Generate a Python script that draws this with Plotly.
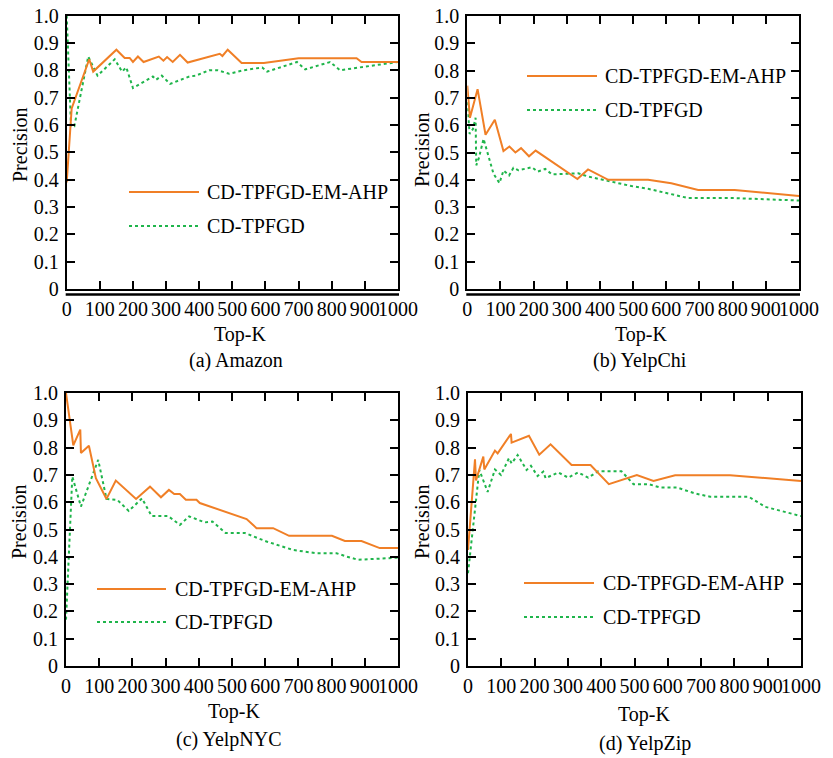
import plotly.graph_objects as go

W, H = 833, 758
FONT = "'Liberation Serif', 'Times New Roman', Times, 'DejaVu Serif', serif"
ORANGE = "#F07F26"
GREEN = "#1FB54B"

# ---------------- data ----------------
a_em_x = [0, 15, 68, 80, 150, 175, 190, 200, 215, 232, 278, 292, 303, 320, 342, 365, 462, 470, 486, 528, 595, 700, 875, 890, 1000]
a_em_y = [0.39, 0.66, 0.84, 0.795, 0.875, 0.845, 0.845, 0.83, 0.85, 0.83, 0.85, 0.835, 0.848, 0.83, 0.856, 0.828, 0.86, 0.852, 0.875, 0.826, 0.826, 0.844, 0.844, 0.83, 0.83]
a_cd_x = [0, 13, 23, 65, 93, 145, 167, 180, 200, 260, 270, 287, 312, 370, 390, 430, 455, 490, 535, 590, 605, 695, 720, 795, 825, 1000]
a_cd_y = [1.0, 0.595, 0.595, 0.85, 0.78, 0.84, 0.795, 0.81, 0.735, 0.777, 0.765, 0.78, 0.75, 0.777, 0.78, 0.80, 0.80, 0.787, 0.80, 0.81, 0.795, 0.83, 0.803, 0.83, 0.80, 0.83]

b_em_x = [0, 8, 31, 55, 83, 109, 127, 145, 162, 186, 206, 332, 364, 425, 545, 615, 696, 806, 1000]
b_em_y = [0.745, 0.627, 0.732, 0.565, 0.62, 0.505, 0.522, 0.50, 0.516, 0.486, 0.507, 0.403, 0.438, 0.40, 0.40, 0.387, 0.363, 0.363, 0.341]
b_cd_x = [0, 7, 17, 25, 27, 35, 49, 59, 79, 97, 109, 126, 139, 154, 195, 212, 235, 255, 334, 364, 425, 495, 545, 666, 806, 1000]
b_cd_y = [0.684, 0.568, 0.586, 0.627, 0.453, 0.48, 0.55, 0.507, 0.422, 0.388, 0.434, 0.416, 0.444, 0.435, 0.446, 0.43, 0.44, 0.42, 0.424, 0.412, 0.395, 0.377, 0.367, 0.333, 0.333, 0.324]

c_em_x = [0, 22, 43, 45, 69, 90, 122, 150, 211, 253, 286, 310, 326, 343, 361, 393, 403, 544, 574, 624, 672, 801, 840, 890, 945, 1000]
c_em_y = [1.0, 0.808, 0.866, 0.78, 0.807, 0.688, 0.612, 0.679, 0.612, 0.657, 0.618, 0.645, 0.63, 0.63, 0.609, 0.609, 0.597, 0.538, 0.505, 0.505, 0.477, 0.477, 0.458, 0.458, 0.432, 0.432]
c_cd_x = [0, 19, 45, 97, 122, 155, 189, 229, 258, 308, 343, 371, 418, 441, 481, 539, 604, 684, 754, 815, 845, 880, 1000]
c_cd_y = [0.17, 0.694, 0.584, 0.755, 0.612, 0.608, 0.568, 0.614, 0.549, 0.549, 0.517, 0.548, 0.526, 0.529, 0.487, 0.487, 0.456, 0.425, 0.413, 0.413, 0.401, 0.389, 0.397]

d_em_x = [0, 21, 24, 46, 49, 81, 89, 129, 131, 183, 214, 248, 311, 368, 423, 507, 557, 622, 787, 1000]
d_em_y = [0.425, 0.757, 0.68, 0.767, 0.72, 0.789, 0.779, 0.85, 0.818, 0.843, 0.774, 0.812, 0.736, 0.736, 0.666, 0.699, 0.678, 0.699, 0.699, 0.678]
d_cd_x = [0, 34, 59, 81, 99, 123, 131, 149, 176, 189, 209, 226, 233, 271, 301, 331, 361, 391, 461, 497, 542, 577, 627, 682, 727, 843, 893, 1000]
d_cd_y = [0.34, 0.718, 0.638, 0.72, 0.70, 0.761, 0.742, 0.773, 0.718, 0.733, 0.696, 0.712, 0.688, 0.709, 0.69, 0.709, 0.69, 0.713, 0.713, 0.666, 0.666, 0.654, 0.654, 0.632, 0.62, 0.62, 0.583, 0.549]

series_names = ["CD-TPFGD-EM-AHP", "CD-TPFGD"]
captions = ["(a) Amazon", "(b) YelpChi", "(c) YelpNYC", "(d) YelpZip"]
x_ticks = [0, 100, 200, 300, 400, 500, 600, 700, 800, 900, 1000]
x_ticktext = ["0", "100", "200", "300", "400", "500", "600", "700", "800", "900", "1000"]
y_ticks = [0, 0.1, 0.2, 0.3, 0.4, 0.5, 0.6, 0.7, 0.8, 0.9, 1.0]
y_ticktext = ["0", "0.1", "0.2", "0.3", "0.4", "0.5", "0.6", "0.7", "0.8", "0.9", "1.0"]

panels = [
    (a_em_x, a_em_y, a_cd_x, a_cd_y),
    (b_em_x, b_em_y, b_cd_x, b_cd_y),
    (c_em_x, c_em_y, c_cd_x, c_cd_y),
    (d_em_x, d_em_y, d_cd_x, d_cd_y),
]

# ---------------- layout geometry (window pixels) ----------------
boxes = [
    (66.7, 398.0, 15.5, 289.0),
    (467.3, 799.0, 16.0, 289.0),
    (66.0, 398.0, 393.0, 666.0),
    (468.0, 801.0, 393.0, 666.0),
]
ytitle_pos = [(20, 145), (422, 150), (19, 522), (422, 522)]
xtitle_pos = [(240, 334), (641, 334), (234, 711), (644, 714)]
caption_pos = [(236, 360), (640, 360), (229, 739), (645, 743)]
legend_pos = [  # line x0, x1, text x, y1, y2
    (129, 199, 205, 192, 226),
    (527, 597, 603, 76, 110),
    (97, 166, 173, 589, 622),
    (524, 594, 601, 583, 617),
]
double_line = [True, True, False, False]


def px(x):
    return x / W


def py(y):
    return 1 - y / H


fig = go.Figure()
layout = dict(
    width=W, height=H, margin=dict(l=0, r=0, t=0, b=0, pad=0, autoexpand=False),
    paper_bgcolor="white", plot_bgcolor="white", showlegend=False,
    font=dict(family=FONT, size=20, color="black"),
)
annotations = []
shapes = []
TXT = dict(family=FONT, size=20, color="black")

for i, (ex, ey, cx, cy) in enumerate(panels):
    n = "" if i == 0 else str(i + 1)
    xa, ya = "x" + n, "y" + n
    L, R, T, B = boxes[i]
    fig.add_trace(go.Scatter(x=cx, y=cy, mode="lines", name=series_names[1],
                             line=dict(color=GREEN, width=2, dash="dot"),
                             xaxis=xa, yaxis=ya))
    fig.add_trace(go.Scatter(x=ex, y=ey, mode="lines", name=series_names[0],
                             line=dict(color=ORANGE, width=2),
                             xaxis=xa, yaxis=ya))
    axcommon = dict(showgrid=False, zeroline=False, showline=True, linecolor="black",
                    linewidth=2, mirror="allticks", ticks="inside", ticklen=8,
                    tickwidth=2, tickcolor="black", tickangle=0, automargin=False,
                    tickfont=TXT)
    layout["xaxis" + n] = dict(axcommon, domain=[px(L), px(R)], range=[0, 1000],
                               tickvals=x_ticks, ticktext=x_ticktext,
                               anchor=ya, ticklabelstandoff=1)
    layout["yaxis" + n] = dict(axcommon, domain=[py(B), py(T)], range=[0, 1.0],
                               tickvals=y_ticks, ticktext=y_ticktext,
                               anchor=xa, ticklabelstandoff=2)
    tx, ty = ytitle_pos[i]
    annotations.append(dict(text="Precision", x=px(tx), y=py(ty), xref="paper", yref="paper",
                            showarrow=False, textangle=-90, xanchor="center", yanchor="middle",
                            font=TXT))
    tx, ty = xtitle_pos[i]
    annotations.append(dict(text="Top-K", x=px(tx), y=py(ty), xref="paper", yref="paper",
                            showarrow=False, xanchor="center", yanchor="middle", font=TXT))
    tx, ty = caption_pos[i]
    annotations.append(dict(text=captions[i], x=px(tx), y=py(ty), xref="paper", yref="paper",
                            showarrow=False, xanchor="center", yanchor="middle", font=TXT))
    lx0, lx1, ltx, ly1, ly2 = legend_pos[i]
    shapes.append(dict(type="line", xref="paper", yref="paper", x0=px(lx0), x1=px(lx1),
                       y0=py(ly1), y1=py(ly1), line=dict(color=ORANGE, width=2)))
    shapes.append(dict(type="line", xref="paper", yref="paper", x0=px(lx0), x1=px(lx1),
                       y0=py(ly2), y1=py(ly2), line=dict(color=GREEN, width=2, dash="dot")))
    annotations.append(dict(text=series_names[0], x=px(ltx), y=py(ly1), xref="paper", yref="paper",
                            showarrow=False, xanchor="left", yanchor="middle", font=TXT))
    annotations.append(dict(text=series_names[1], x=px(ltx), y=py(ly2), xref="paper", yref="paper",
                            showarrow=False, xanchor="left", yanchor="middle", font=TXT))
    if double_line[i]:
        shapes.append(dict(type="line", xref="paper", yref="paper", x0=px(L - 1), x1=px(R + 1),
                           y0=py(B + 5.5), y1=py(B + 5.5), line=dict(color="black", width=2.5)))

layout["annotations"] = annotations
layout["shapes"] = shapes
fig.update_layout(**layout)
fig.write_html("out.html",
               config={"displayModeBar": False, "staticPlot": True},
               post_script="document.body.style.margin='0';document.body.style.overflow='hidden';")
